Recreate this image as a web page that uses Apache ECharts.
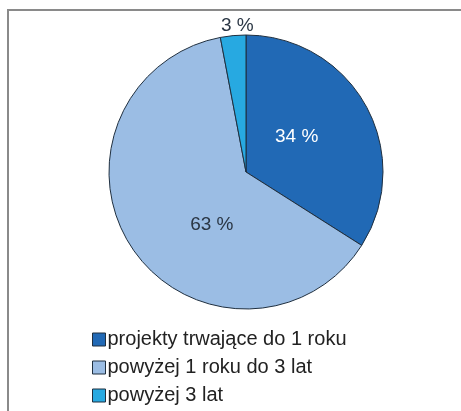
<!DOCTYPE html>
<html><head><meta charset="utf-8">
<script src="https://cdn.jsdelivr.net/npm/echarts@6/dist/echarts.min.js"></script>
<style>html,body{margin:0;padding:0;background:#fff}#c{width:461px;height:411px}</style>
</head><body><div id="c"></div>
<script>
var categories = ['projekty trwające do 1 roku', 'powyżej 1 roku do 3 lat', 'powyżej 3 lat'];
var values = [34, 63, 3];
var colors = ['#2169B5', '#9BBDE4', '#27A9E1'];
var labelColors = ['#ffffff', '#2a3644', '#2a3644'];
var labelOffsets = [[-12, -1], [25, 13], [-2, -75]];

var chart = echarts.init(document.getElementById('c'));
var font = 'Liberation Sans, Arial, sans-serif';
chart.setOption({
  animation: false,
  graphic: [
    {type: 'line', shape: {x1: 7, y1: 10, x2: 461, y2: 10}, style: {stroke: '#8a8a8a', lineWidth: 2}},
    {type: 'line', shape: {x1: 8, y1: 9, x2: 8, y2: 411}, style: {stroke: '#8a8a8a', lineWidth: 2}}
  ],
  legend: {
    orient: 'vertical', left: 87, top: 324, height: 90,
    itemWidth: 13, itemHeight: 13, itemGap: 7,
    icon: 'rect',
    textStyle: {fontFamily: font, fontSize: 20, color: '#222222', padding: [0, 0, 0, -3], lineHeight: 21},
    data: categories.map(function (n, i) {
      return {name: n, itemStyle: {color: colors[i], borderColor: '#1f2f3f', borderWidth: 1}};
    })
  },
  series: [{
    type: 'pie',
    center: [246, 172], radius: 137,
    startAngle: 90, clockwise: true,
    itemStyle: {borderColor: '#1f2f3f', borderWidth: 1},
    labelLine: {show: false},
    data: categories.map(function (n, i) {
      return {
        name: n, value: values[i],
        itemStyle: {color: colors[i]},
        label: {
          show: true, position: 'inside', formatter: '{c} %',
          offset: labelOffsets[i],
          color: labelColors[i], fontFamily: font, fontSize: 19
        }
      };
    })
  }]
});
</script></body></html>
